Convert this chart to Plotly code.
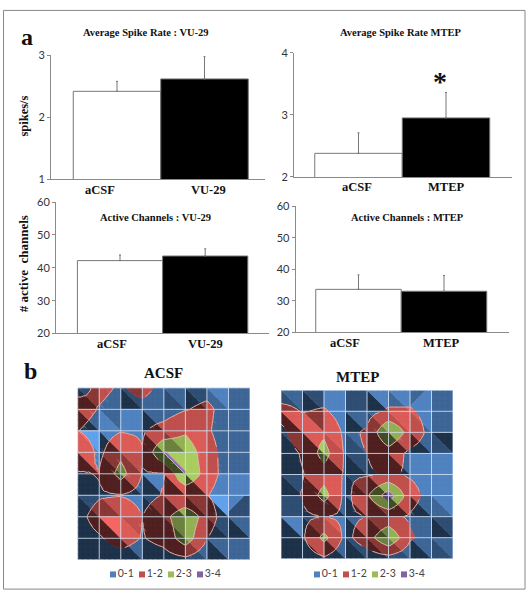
import plotly.graph_objects as go

W, H = 529, 600
# ---------- bar data ----------
labels_vu = ["aCSF", "VU-29"]
labels_mt = ["aCSF", "MTEP"]
spike_vu = [2.42, 2.62]
spike_vu_err = [0.16, 0.36]
spike_mt = [2.38, 2.95]
spike_mt_err = [0.33, 0.41]
chan_vu = [42.2, 43.6]
chan_vu_err = [1.7, 2.2]
chan_mt = [33.6, 33.0]
chan_mt_err = [4.6, 5.0]
bar_colors = ["white", "black"]
# ---------- surface data (rows top to bottom) ----------
acsf_z = [
    [.7, 1.2, .9, 1.3, .7, .6, .7, .6, .6],
    [1.4, .95, .7, .7, .6, .95, 1.2, .6, .6],
    [1.02, .65, .95, .9, 1.3, 1.85, 1.1, .6, .6],
    [1.7, .8, 1.7, 1.05, 3.05, 2.7, 1.4, .6, .6],
    [.9, 1.05, 2.4, .95, .95, 3.05, 1.5, .55, .55],
    [.5, .9, .95, .7, 1.05, 1.1, 1.05, .45, .6],
    [.7, 1.4, 1.9, 1.0, 1.7, 2.7, 1.6, .3, .5],
    [.6, .9, 1.4, .95, 1.3, 2.6, 1.0, .3, .3],
    [.4, .5, .6, .5, .6, .75, .4, .3, .3],
]
mtep_z = [
    [.5, .7, .5, .6, .6, .6, .6, .5, .5],
    [1.3, .95, 1.1, .6, .7, 1.1, 1.1, .7, .6],
    [.8, 1.6, 1.8, .8, 1.1, 3.05, 1.6, .7, .5],
    [.5, 1.1, 2.4, .85, 1.0, 1.5, .8, .6, .6],
    [.5, .95, 1.6, .9, .9, 1.1, .9, .6, .55],
    [.6, 1.05, 2.4, .7, 1.85, 3.6, 1.4, .6, .6],
    [.8, .85, 1.0, .85, 1.0, 1.2, .9, .5, .6],
    [.45, .85, 2.3, .75, 1.5, 2.95, 1.1, .7, .45],
    [.3, .5, .85, .4, .5, .6, .4, .3, .3],
]
band_names = ["0-1", "1-2", "2-3", "3-4"]
band_colors = [(79, 129, 189), (192, 80, 77), (155, 187, 89), (128, 100, 162)]
band_shades = [
    [0.40, 0.62, 0.80, 1.02, 1.25],
    [0.42, 0.72, 1.00, 1.15, 1.28],
    [0.42, 0.70, 0.95, 1.10, 1.20],
    [0.45, 0.70, 1.00, 1.10, 1.20],
]
# cells whose facet diagonal runs the other way
acsf_flip = {(1, 2), (4, 7), (5, 7)}
mtep_flip = {(0, 2), (0, 6), (4, 6), (4, 7)}
# cells where the surface folds along the diagonal instead of bending smoothly
acsf_fold = {(3, 4)}
mtep_fold = set()
# facet shades: (row, col): (first facet, second facet)
acsf_shade = {
    (0, 0): (1, 0), (0, 2): (1, 0), (0, 4): (2, 1), (0, 5): (1, 0), (0, 6): (3, 2), (0, 7): (2, 2),
    (1, 0): (2, 0), (1, 1): (2, 3), (1, 2): (3, 3), (1, 3): (2, 0), (1, 4): (2, 2), (1, 5): (2, 2),
    (1, 6): (2, 2), (1, 7): (2, 2),
    (2, 0): (4, 3), (2, 1): (3, 0), (2, 2): (3, 3), (2, 3): (2, 0), (2, 4): (2, 1), (2, 5): (3, 3), (2, 7): (2, 2),
    (3, 0): (3, 0), (3, 1): (1, 0), (3, 2): (2, 1), (3, 3): (0, 0), (3, 4): (3, 0), (3, 5): (3, 3),
    (3, 6): (2, 2), (3, 7): (2, 2),
    (4, 0): (0, 0), (4, 1): (0, 0), (4, 2): (2, 0), (4, 3): (3, 0), (4, 4): (3, 0), (4, 5): (3, 0),
    (4, 6): (3, 3), (4, 7): (3, 3),
    (5, 0): (1, 0), (5, 1): (2, 1), (5, 2): (3, 3), (5, 3): (1, 0), (5, 4): (2, 0), (5, 5): (1, 0),
    (5, 6): (4, 0), (5, 7): (3, 1),
    (6, 0): (0, 0), (6, 1): (4, 0), (6, 2): (2, 3), (6, 3): (0, 0), (6, 4): (1, 0), (6, 5): (2, 2),
    (6, 6): (1, 0), (6, 7): (2, 0),
    (7, 0): (0, 0), (7, 1): (0, 0), (7, 2): (2, 0), (7, 3): (0, 0), (7, 4): (0, 0), (7, 5): (2, 1),
    (7, 6): (2, 0), (7, 7): (2, 2),
}
mtep_shade = {
    (0, 0): (2, 1), (0, 1): (1, 0), (0, 2): (3, 3), (0, 3): (1, 1), (0, 4): (3, 0), (0, 5): (3, 2),
    (0, 6): (2, 3), (0, 7): (2, 2),
    (1, 0): (3, 0), (1, 1): (1, 3), (1, 2): (3, 3), (1, 3): (2, 0), (1, 4): (2, 1), (1, 5): (3, 2),
    (1, 6): (3, 2), (1, 7): (2, 2),
    (2, 0): (1, 0), (2, 1): (3, 0), (2, 2): (3, 2), (2, 3): (2, 1), (2, 4): (0, 0), (2, 5): (2, 0),
    (2, 6): (2, 0), (2, 7): (0, 1),
    (3, 0): (0, 0), (3, 1): (0, 0), (3, 2): (2, 0), (3, 3): (1, 0), (3, 4): (0, 0), (3, 5): (2, 0),
    (3, 6): (3, 3), (3, 7): (3, 3),
    (4, 0): (1, 0), (4, 1): (2, 0), (4, 2): (3, 3), (4, 3): (1, 0), (4, 4): (2, 0), (4, 5): (2, 2),
    (4, 6): (3, 3), (4, 7): (3, 3),
    (5, 0): (1, 1), (5, 1): (0, 0), (5, 2): (2, 0), (5, 3): (2, 0), (5, 4): (1, 0), (5, 5): (2, 0),
    (5, 6): (2, 0), (5, 7): (3, 2),
    (6, 0): (3, 0), (6, 1): (1, 0), (6, 2): (3, 2), (6, 3): (2, 0), (6, 4): (1, 0), (6, 5): (2, 2),
    (6, 6): (2, 2), (6, 7): (1, 0),
    (7, 0): (0, 0), (7, 1): (2, 0), (7, 2): (2, 0), (7, 3): (1, 0), (7, 4): (1, 0), (7, 5): (2, 1),
    (7, 6): (2, 0), (7, 7): (2, 1),
}
SUB = 4


def px(x):
    return x / W


def py(y):
    return 1 - y / H


fig = go.Figure()
lay = {}


def clip(poly, lo, hi):
    """clip a polygon of (x, r, z) to lo <= z <= hi"""
    for lim, sign in ((lo, 1), (hi, -1)):
        out = []
        for i in range(len(poly)):
            a, b = poly[i], poly[(i + 1) % len(poly)]
            da, db = sign * (a[2] - lim), sign * (b[2] - lim)
            if da >= 0:
                out.append(a)
            if da * db < 0:
                t = da / (da - db)
                out.append(tuple(a[k] + t * (b[k] - a[k]) for k in range(3)))
        poly = out
        if not poly:
            return []
    return poly


def surface(z, flips, folds, shades, xa, ya, dom_x, dom_y):
    groups = {}
    contour_x, contour_y = [], []
    for r in range(8):
        for c in range(8):
            flip = (r, c) in flips
            fold = (r, c) in folds
            z00, z10, z01, z11 = z[r][c], z[r][c + 1], z[r + 1][c], z[r + 1][c + 1]

            def node(i, j):
                u, v = i / SUB, j / SUB
                if fold:
                    if u >= v:
                        h = z00 + u * (z10 - z00) + v * (z11 - z10)
                    else:
                        h = z00 + v * (z01 - z00) + u * (z11 - z01)
                else:
                    h = (1 - v) * ((1 - u) * z00 + u * z10) + v * ((1 - u) * z01 + u * z11)
                return (c + u, r + v, h)

            for i in range(SUB):
                for j in range(SUB):
                    a, b, d, e = node(i, j), node(i + 1, j), node(i, j + 1), node(i + 1, j + 1)
                    if flip:
                        tris = (((a, b, d), 0 if i + j < SUB - 1 else 1), ((b, e, d), 0 if i + j < SUB - 2 else 1))
                    else:
                        tris = (((a, b, e), 0 if i >= j else 1), ((a, e, d), 1 if i <= j else 0))
                    for tri, ti in tris:
                        lvl = shades.get((r, c), (2, 2))[ti]
                        for bi in range(4):
                            poly = clip(list(tri), bi, bi + 1)
                            if len(poly) < 3:
                                continue
                            g = groups.setdefault((bi, lvl), ([], []))
                            g[0].extend([q[0] for q in poly] + [poly[0][0], None])
                            g[1].extend([q[1] for q in poly] + [poly[0][1], None])
                        for level in (1, 2, 3):
                            pts = []
                            for k in range(3):
                                q0, q1 = tri[k], tri[(k + 1) % 3]
                                if (q0[2] - level) * (q1[2] - level) < 0:
                                    t = (level - q0[2]) / (q1[2] - q0[2])
                                    pts.append((q0[0] + t * (q1[0] - q0[0]), q0[1] + t * (q1[1] - q0[1])))
                            if len(pts) == 2:
                                contour_x += [pts[0][0], pts[1][0], None]
                                contour_y += [pts[0][1], pts[1][1], None]
    for (bi, lvl), (xs, ys) in sorted(groups.items()):
        col = "rgb(%d,%d,%d)" % tuple(min(255, int(v * band_shades[bi][lvl])) for v in band_colors[bi])
        fig.add_trace(go.Scatter(x=xs, y=ys, mode="lines", fill="toself", fillcolor=col,
                                 line=dict(color=col, width=0.5), showlegend=False,
                                 hoverinfo="skip", xaxis=xa, yaxis=ya))
    gx, gy = [], []
    for i in range(9):
        gx += [i, i, None, 0, 8, None]
        gy += [0, 8, None, i, i, None]
    fig.add_trace(go.Scatter(x=gx, y=gy, mode="lines", line=dict(color="rgba(212,226,245,0.85)", width=1),
                             showlegend=False, hoverinfo="skip", xaxis=xa, yaxis=ya))
    fig.add_trace(go.Scatter(x=contour_x, y=contour_y, mode="lines",
                             line=dict(color="rgb(226,175,165)", width=1),
                             showlegend=False, hoverinfo="skip", xaxis=xa, yaxis=ya))
    lay[xa.replace("x", "xaxis")] = dict(domain=dom_x, range=[0, 8], visible=False, fixedrange=True)
    lay[ya.replace("y", "yaxis")] = dict(domain=dom_y, range=[8, 0], visible=False, fixedrange=True)


def key(xa, ya, first_px, y_px):
    """colour key: one marker and one label per band, evenly spaced 29 px apart"""
    fig.add_trace(go.Scatter(x=list(range(4)), y=[0] * 4, mode="markers+text", text=band_names,
                             textposition="middle right",
                             textfont=dict(family="Lato", size=10.5, color="#444"),
                             marker=dict(symbol="square", size=6,
                                         color=["rgb(%d,%d,%d)" % c for c in band_colors]),
                             showlegend=False, hoverinfo="skip", xaxis=xa, yaxis=ya, cliponaxis=False))
    lay[xa.replace("x", "xaxis")] = dict(domain=[px(first_px - 14.5), px(first_px + 101.5)], range=[-0.5, 3.5],
                                         visible=False, fixedrange=True, anchor=ya)
    lay[ya.replace("y", "yaxis")] = dict(domain=[py(y_px + 6), py(y_px - 6)], range=[-1, 1],
                                         visible=False, fixedrange=True, anchor=xa)


def bars(cats, vals, errs, xa, ya, left, right, top, bottom, c0, unit, yrange, ticks):
    fig.add_trace(go.Bar(x=[0, 1], y=vals, width=1, marker=dict(color=bar_colors, line=dict(color="#777", width=1)),
                         error_y=dict(type="data", symmetric=False, array=errs, arrayminus=[0, 0],
                                      color="#777", thickness=1, width=1),
                         showlegend=False, xaxis=xa, yaxis=ya))
    lay[xa.replace("x", "xaxis")] = dict(domain=[px(left), px(right)], anchor=ya,
                                         range=[(left - c0) / unit, (right - c0) / unit],
                                         showticklabels=False, ticks="", showgrid=False, zeroline=False,
                                         showline=True, linecolor="#8a8a8a", linewidth=1)
    lay[ya.replace("y", "yaxis")] = dict(domain=[py(bottom), py(top)], anchor=xa, range=yrange,
                                         tickvals=ticks, ticks="outside", ticklen=3, tickcolor="#8a8a8a",
                                         showgrid=False, zeroline=False, showline=True,
                                         linecolor="#8a8a8a", linewidth=1,
                                         tickfont=dict(family="Lato", size=11, color="#333"))


bars(labels_vu, spike_vu, spike_vu_err, "x", "y", 51, 265, 49.5, 176, 117, 87.5, [1, 3], [1, 2, 3])
bars(labels_mt, spike_mt, spike_mt_err, "x2", "y2", 294, 512, 46.7, 173.7, 358.5, 87.5, [2, 4], [2, 3, 4])
bars(labels_vu, chan_vu, chan_vu_err, "x3", "y3", 56, 269, 199.5, 333.7, 120, 85.2, [20, 60], [20, 30, 40, 50, 60])
bars(labels_mt, chan_mt, chan_mt_err, "x4", "y4", 295.6, 509, 203.6, 332.4, 358.5, 85.5, [20, 60], [20, 30, 40, 50, 60])

surface(acsf_z, acsf_flip, acsf_fold, acsf_shade, "x5", "y5", [px(77.7), px(250)], [py(565), py(389.3)])
surface(mtep_z, mtep_flip, mtep_fold, mtep_shade, "x6", "y6", [px(281), px(453)], [py(564), py(391.7)])
key("x7", "y7", 113, 580)
key("x8", "y8", 317, 580)

serif = "Liberation Serif"


def note(text, x, y, size, angle=0, color="#111"):
    return dict(text="<b>%s</b>" % text, x=px(x), y=py(y), xref="paper", yref="paper", showarrow=False,
                xanchor="center", yanchor="middle", textangle=angle,
                font=dict(family=serif, size=size, color=color))


notes = [
    note("Average Spike Rate : VU-29", 146, 25.7, 10.5),
    note("Average Spike Rate MTEP", 400, 25.7, 10.5),
    note("Active Channels : VU-29", 155, 215, 10.5),
    note("Active Channels : MTEP", 407, 215, 10.5),
    note(labels_vu[0], 100, 187, 12.5), note(labels_vu[1], 208, 187, 12.5),
    note(labels_mt[0], 357, 184, 12.5), note(labels_mt[1], 445.6, 184, 12.5),
    note(labels_vu[0], 112, 344, 12.5), note(labels_vu[1], 205, 344, 12.5),
    note(labels_mt[0], 345, 343, 12.5), note(labels_mt[1], 441, 343, 12.5),
    note("spikes/s", 24, 112, 12.5, -90),
    note("# active  channels", 23, 263, 13, -90),
    note("a", 27, 31, 24),
    note("b", 30, 372, 24),
    note("ACSF", 163, 374, 15),
    note("MTEP", 357, 378, 15),
    note("*", 440, 76, 28),
]

fig.update_layout(
    width=W, height=H, margin=dict(l=0, r=0, t=0, b=0), paper_bgcolor="white", plot_bgcolor="white",
    barmode="overlay", annotations=notes, showlegend=False, **lay,
    shapes=[dict(type="rect", xref="paper", yref="paper", x0=px(3.5), x1=px(525), y0=py(595), y1=py(3.5),
                 line=dict(color="#888", width=1), layer="below")],
)
fig.write_html("out.html", config={"displayModeBar": False}, post_script="document.body.style.margin='0';")
